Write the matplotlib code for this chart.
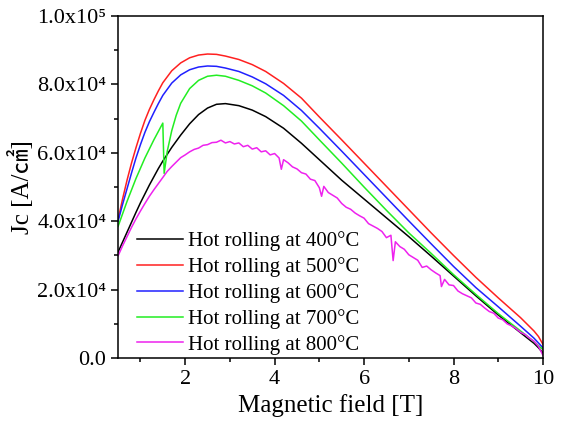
import numpy as np
import matplotlib
matplotlib.use('Agg')
import matplotlib.pyplot as plt
from matplotlib.ticker import MultipleLocator, FuncFormatter

plt.rcParams['font.family'] = ['Liberation Serif', 'Noto Sans CJK JP']

# ── Data: Jc (A/cm^2, in thousands) vs applied field (T) ─────────────────────
field = [0.5, 0.6, 0.7, 0.8, 0.9, 1.0, 1.1, 1.2, 1.3, 1.4, 1.5, 1.7, 1.9,
         2.1, 2.3, 2.5, 2.7, 2.9, 3.2, 3.5, 3.8, 4.2, 4.6, 5.0, 5.5, 6.0,
         6.5, 7.0, 7.5, 8.0, 8.5, 9.0, 9.5, 9.8, 9.9, 10.0]

jc_400 = [31.0, 33.9, 36.8, 39.7, 42.6, 45.4, 48.0, 50.6, 53.0, 55.4, 57.6,
          61.6, 65.2, 68.5, 71.2, 73.1, 74.2, 74.4, 73.8, 72.5, 70.6, 67.2,
          62.8, 58.0, 52.0, 46.5, 41.0, 35.5, 29.8, 24.0, 18.2, 12.6, 7.4,
          4.3, 3.0, 1.5]

jc_500 = [40.5, 46.5, 52.0, 57.0, 61.5, 65.7, 69.5, 72.7, 75.5, 78.1, 80.5,
          84.0, 86.3, 87.8, 88.6, 88.9, 88.8, 88.3, 87.3, 85.8, 83.8, 80.3,
          76.0, 70.5, 63.8, 57.0, 50.2, 43.4, 36.6, 30.0, 23.6, 17.6, 11.8,
          7.9, 6.3, 4.0]

jc_600 = [40.0, 44.9, 49.5, 54.1, 58.5, 62.4, 66.0, 69.1, 71.8, 74.4, 76.8,
          80.4, 82.8, 84.3, 85.1, 85.4, 85.3, 84.8, 83.8, 82.2, 80.2, 76.8,
          72.4, 67.2, 60.5, 53.7, 46.9, 40.1, 33.4, 26.8, 20.6, 15.0, 9.3,
          5.8, 4.4, 3.0]

# 700 C run has a flux jump just above 1.5 T
field_700 = [0.5, 0.7, 0.9, 1.1, 1.3, 1.5, 1.53, 1.6, 1.7, 1.8, 1.9, 2.1,
             2.3, 2.5, 2.7, 2.9, 3.2, 3.5, 3.8, 4.2, 4.6, 5.0, 5.5, 6.0,
             6.5, 7.0, 7.5, 8.0, 8.5, 9.0, 9.5, 9.8, 9.9, 10.0]
jc_700 = [38.5, 45.8, 52.5, 58.5, 63.8, 68.7, 54.0, 60.5, 66.5, 71.0, 74.5,
          78.8, 81.2, 82.4, 82.7, 82.4, 81.2, 79.6, 77.5, 73.8, 69.3, 63.8,
          57.0, 50.0, 43.2, 36.6, 30.6, 24.4, 18.6, 13.0, 7.9, 4.8, 3.6, 2.5]

# 800 C run is noisy, sampled more finely
field_800 = [0.5, 0.6, 0.7, 0.8, 0.9, 1.0, 1.1, 1.2, 1.3, 1.4, 1.5, 1.6,
             1.7, 1.8, 1.9, 2.0, 2.1, 2.2, 2.3, 2.4, 2.5, 2.6, 2.7, 2.8,
             2.9, 3.0, 3.1, 3.2, 3.3, 3.4, 3.5, 3.6, 3.7, 3.8, 3.9, 4.0,
             4.1, 4.15, 4.2, 4.3, 4.4, 4.5, 4.6, 4.7, 4.8, 4.9, 5.0, 5.05,
             5.1, 5.2, 5.3, 5.4, 5.5, 5.6, 5.7, 5.8, 5.9, 6.0, 6.1, 6.2,
             6.3, 6.4, 6.5, 6.6, 6.65, 6.7, 6.8, 6.9, 7.0, 7.1, 7.2, 7.3,
             7.4, 7.5, 7.6, 7.7, 7.73, 7.8, 7.9, 8.0, 8.1, 8.2, 8.3, 8.4,
             8.5, 8.6, 8.7, 8.8, 8.9, 9.0, 9.1, 9.2, 9.3, 9.4, 9.5, 9.6,
             9.7, 9.8, 9.9, 10.0]
jc_800 = [29.9, 32.8, 35.5, 38.2, 40.7, 43.0, 45.2, 47.3, 49.2, 51.0, 52.8,
          54.6, 56.0, 57.3, 58.6, 59.4, 60.3, 61.0, 61.4, 62.2, 62.4, 63.0,
          63.1, 63.7, 62.9, 63.3, 62.6, 62.9, 61.8, 62.2, 61.1, 61.5, 60.3,
          60.6, 59.4, 59.8, 58.5, 55.2, 58.0, 57.1, 55.9, 55.3, 54.2, 53.8,
          52.3, 51.9, 49.8, 47.3, 50.2, 48.4, 47.6, 46.8, 45.2, 44.1, 43.5,
          42.4, 41.6, 40.9, 39.3, 38.6, 37.9, 37.0, 35.2, 35.9, 28.5, 34.0,
          32.6, 31.8, 30.2, 29.4, 28.6, 26.5, 26.9, 25.8, 24.9, 24.1, 20.9,
          23.0, 21.4, 21.2, 19.6, 18.8, 18.2, 17.6, 16.1, 15.7, 14.6, 13.6,
          13.1, 11.7, 11.2, 10.0, 9.4, 8.6, 7.5, 6.9, 5.8, 4.9, 3.4, 0.8]

series = [
    (field, jc_400, 'black', 'Hot rolling at 400\u00b0C'),
    (field, jc_500, '#ff2020', 'Hot rolling at 500\u00b0C'),
    (field, jc_600, '#2020ff', 'Hot rolling at 600\u00b0C'),
    (field_700, jc_700, '#22ee22', 'Hot rolling at 700\u00b0C'),
    (field_800, jc_800, '#ee22ee', 'Hot rolling at 800\u00b0C'),
]

SUPERSCRIPT = str.maketrans('0123456789', '\u2070\u00b9\u00b2\u00b3\u2074'
                                          '\u2075\u2076\u2077\u2078\u2079')


def sci_fmt(v, pos):
    # Origin-style "8.0x10^4" labels
    if v <= 0:
        return '0.0'
    e = int(np.floor(np.log10(v) + 1e-9))
    m = v / 10 ** e
    return f'{m:.1f}x10' + str(e).translate(SUPERSCRIPT)


fig = plt.figure(figsize=(5.65, 4.34), dpi=100)
ax = fig.add_axes([0.209, 0.175, 0.752, 0.788])

for x, y, c, lab in series:
    ax.plot(x, np.array(y) * 1000, color=c, linewidth=1.1, label=lab)

ax.set_xlim(0.5, 10)
ax.set_ylim(0, 1.0e5)
ax.xaxis.set_major_locator(MultipleLocator(2))
ax.xaxis.set_minor_locator(MultipleLocator(1))
ax.yaxis.set_major_locator(MultipleLocator(2e4))
ax.yaxis.set_minor_locator(MultipleLocator(1e4))
ax.yaxis.set_major_formatter(FuncFormatter(sci_fmt))

ax.tick_params(which='both', direction='out', top=False, right=False,
               labelsize=16, width=1.1)
ax.tick_params(which='major', length=5)
ax.tick_params(which='minor', length=3)
for sp in ax.spines.values():
    sp.set_linewidth(1.1)

ax.set_xlabel('Magnetic field [T]', fontsize=18, labelpad=4)
ax.set_ylabel('Jc [A/\u33a0]', fontsize=18, labelpad=2)

ax.legend(loc='lower left', bbox_to_anchor=(0.011, -0.033), frameon=False,
          fontsize=15, handlelength=2.2, handletextpad=0.25,
          labelspacing=0.29, borderaxespad=0.3)

plt.savefig('out.png', dpi=100)
plt.close()
